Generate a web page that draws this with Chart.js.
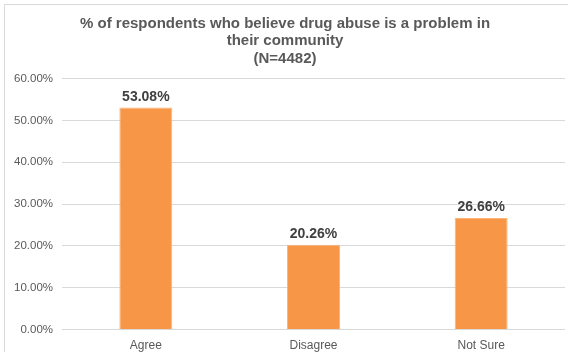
<!DOCTYPE html>
<html>
<head>
<meta charset="utf-8">
<script src="https://cdn.jsdelivr.net/npm/chart.js@4/dist/chart.umd.min.js"></script>
<style>
  html, body { margin: 0; padding: 0; background: #fff; overflow: hidden; width: 568px; height: 352px; }
  .wrap { position: absolute; left: 4px; top: 4px; width: 572px; height: 364px; border: 1px solid #d9d9d9; box-sizing: border-box; }
  canvas { position: absolute; left: 0; top: 0; }
</style>
</head>
<body>
<div class="wrap"><canvas id="myChart" width="568" height="357"></canvas></div>
<script>
const categories = ["Agree", "Disagree", "Not Sure"];
const percentValues = [53.08, 20.26, 26.66];
const titleLines = ["% of respondents who believe drug abuse is a problem in", "their community", "(N=4482)"];
const yTicks = [0, 10, 20, 30, 40, 50, 60];

const fontFamily = "'Liberation Sans', Arial, sans-serif";

// draws the value above each bar
const barLabels = {
    id: "barLabels",
    afterDatasetsDraw(chart) {
        const ctx = chart.ctx;
        const meta = chart.getDatasetMeta(0);
        ctx.save();
        ctx.font = "bold 14px " + fontFamily;
        ctx.fillStyle = "#404040";
        ctx.textAlign = "center";
        ctx.textBaseline = "alphabetic";
        meta.data.forEach((bar, i) => {
            ctx.fillText(percentValues[i].toFixed(2) + "%", bar.x, bar.y - 7);
        });
        ctx.restore();
    }
};

const ctx = document.getElementById("myChart").getContext("2d");
const myChart = new Chart(ctx, {
    type: "bar",
    data: {
        labels: categories,
        datasets: [
            {
                data: percentValues,
                backgroundColor: "#f79646",
                borderColor: "#fbb47a",
                borderWidth: 1,
                barPercentage: 0.632,
                categoryPercentage: 0.5,
            },
        ],
    },
    options: {
        responsive: false,
        animation: false,
        layout: { padding: { left: 0, right: 8, top: 0, bottom: 0 } },
        plugins: {
            legend: { display: false },
            tooltip: { enabled: false },
            title: {
                display: true,
                text: titleLines,
                color: "#595959",
                font: { family: fontFamily, size: 15, weight: "bold", lineHeight: 1.17 },
                padding: { top: 10, bottom: 11 },
            },
        },
        scales: {
            y: {
                min: 0,
                max: 60,
                afterBuildTicks: (axis) => { axis.ticks = yTicks.map(v => ({ value: v })); },
                border: { display: false },
                grid: { color: "#d9d9d9", drawTicks: false },
                ticks: {
                    padding: 9,
                    color: "#595959",
                    font: { family: fontFamily, size: 11.5 },
                    callback: (v) => v.toFixed(2) + "%",
                },
            },
            x: {
                border: { display: false },
                grid: { display: false, drawTicks: false },
                ticks: {
                    padding: 9,
                    color: "#595959",
                    font: { family: fontFamily, size: 12 },
                },
            },
        },
    },
    plugins: [barLabels],
});
</script>
</body>
</html>
